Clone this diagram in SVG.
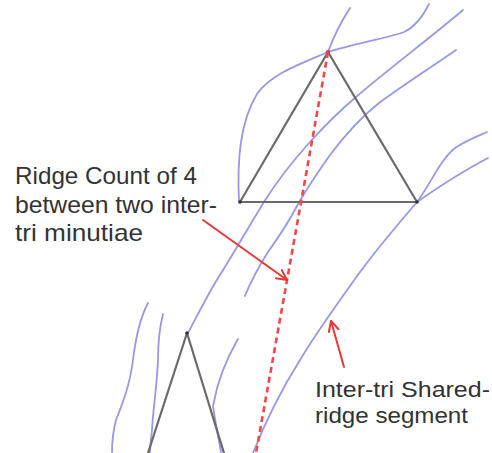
<svg xmlns="http://www.w3.org/2000/svg" width="492" height="453" viewBox="0 0 492 453">
<defs>
<style>
.ridge{fill:none;stroke:#9898e4;stroke-width:1.8;stroke-linecap:round;stroke-linejoin:round}
.tri{fill:none;stroke:#6a6a6a;stroke-width:2.2;stroke-linejoin:round}
.count{fill:none;stroke:#f04848;stroke-width:2.6;stroke-dasharray:6 4}
.arrow{fill:none;stroke:#e83838;stroke-width:2;stroke-linecap:round}
.lbl{font-family:"Liberation Sans",Arial,sans-serif;fill:#333;}
.dot{fill:#333}
</style>
<marker id="ah" viewBox="0 0 12 12" refX="11" refY="6" markerWidth="12" markerHeight="12" markerUnits="userSpaceOnUse" orient="auto">
<path d="M1,1 L11,6 L1,11" fill="none" stroke="#e83838" stroke-width="2" stroke-linecap="round" stroke-linejoin="round"/>
</marker>
</defs>
<rect width="492" height="453" fill="#fff"/>
<g id="ridges">
<path class="ridge" d="M239,202 C237,160 240,122 257,94 C271,74 300,64 328,52 C352,44 388,38 404,32 C417,26 424,14 429,4"/>
<path class="ridge" d="M328,52 C333,38 341,22 350,8"/>
<path class="ridge" d="M463,10 C430,38 390,68 356,97 C330,119 290,160 264,202 C248,228 232,256 215,283 C205,300 196,318 188,333"/>
<path class="ridge" d="M456,50 C430,68 405,84 379,103 C360,118 345,135 330,155 C318,172 305,192 298,204 C290,220 280,235 268,252 C258,268 250,283 245,296"/>
<path class="ridge" d="M417,202 C400,222 380,245 360,272 C340,300 318,330 300,360 C285,384 268,415 253,453"/>
<path class="ridge" d="M417,202 C430,185 440,160 455,148 C467,140 478,136 487,132"/>
<path class="ridge" d="M417,202 C440,186 465,170 488,158"/>
<path class="ridge" d="M148,303 C140,318 136,335 133,360 C130,385 122,405 116,420 C113,432 112,442 112,452"/>
<path class="ridge" d="M163,314 C159,330 158,345 158,360 C157,385 153,410 152,430 C151,440 150,447 150,452"/>
<path class="ridge" d="M238,339 C228,356 218,378 213,406 C215,420 218,436 221,452"/>
</g>
<g id="triangles">
<path class="tri" d="M328,52 L240,202 L417,202 Z"/>
<path class="tri" d="M148,453 L187,333 L224,453"/>
<circle class="dot" cx="240" cy="202" r="1.8"/>
<circle class="dot" cx="417" cy="202" r="1.8" fill="#224"/>
<circle class="dot" cx="187" cy="333" r="1.8"/>
<circle cx="328" cy="52" r="2" fill="#e03040"/>
</g>
<g id="connectors">
<path class="count" d="M328,52 L256,453"/>
<path class="arrow" d="M203,220 L287,280" marker-end="url(#ah)"/>
<path class="arrow" d="M344,367 L331,321" marker-end="url(#ah)"/>
</g>
<g id="label-ridge-count">
<text class="lbl" font-size="24" x="15" y="184" textLength="182" lengthAdjust="spacingAndGlyphs">Ridge Count of 4</text>
<text class="lbl" font-size="24" x="15" y="213" textLength="202" lengthAdjust="spacingAndGlyphs">between two inter-</text>
<text class="lbl" font-size="24" x="15" y="241" textLength="128" lengthAdjust="spacingAndGlyphs">tri minutiae</text>
</g>
<g id="label-shared">
<text class="lbl" font-size="22" x="315" y="397" textLength="175" lengthAdjust="spacingAndGlyphs">Inter-tri Shared-</text>
<text class="lbl" font-size="22" x="315" y="423" textLength="153" lengthAdjust="spacingAndGlyphs">ridge segment</text>
</g>
</svg>
